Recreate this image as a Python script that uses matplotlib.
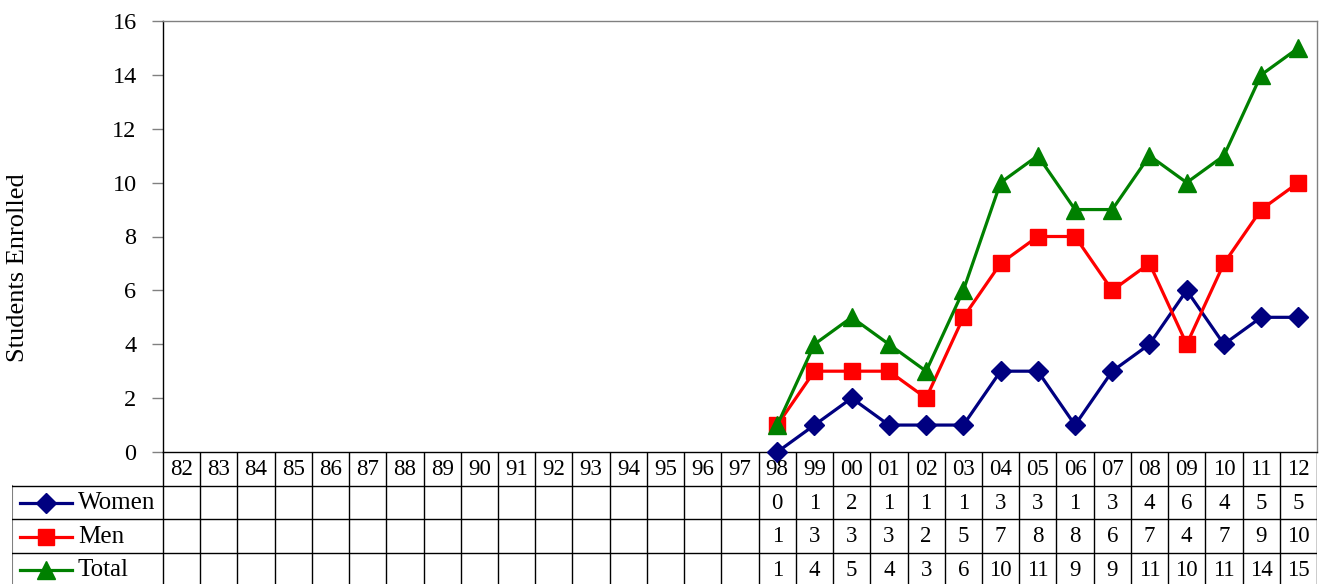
import matplotlib
matplotlib.use("Agg")
import matplotlib.pyplot as plt

plt.rcParams['font.family'] = ['Liberation Serif', 'DejaVu Serif']

years = ["82", "83", "84", "85", "86", "87", "88", "89", "90", "91", "92", "93", "94", "95", "96", "97",
         "98", "99", "00", "01", "02", "03", "04", "05", "06", "07", "08", "09", "10", "11", "12"]
data_start = "98"
women = [0, 1, 2, 1, 1, 1, 3, 3, 1, 3, 4, 6, 4, 5, 5]
men = [1, 3, 3, 3, 2, 5, 7, 8, 8, 6, 7, 4, 7, 9, 10]
total = [1, 4, 5, 4, 3, 6, 10, 11, 9, 9, 11, 10, 11, 14, 15]
series_names = ["Women", "Men", "Total"]
y_ticks = [0, 2, 4, 6, 8, 10, 12, 14, 16]

W, H = 1325, 584
fig = plt.figure(figsize=(W / 100, H / 100), dpi=100)
L, R, T, B = 163, 1317, 21, 452
ax = fig.add_axes([L / W, 1 - B / H, (R - L) / W, (B - T) / H])

n = len(years)
i0 = years.index(data_start)
xs = list(range(i0, i0 + len(women)))

styles = [
    dict(color="#000080", marker="D", markersize=10),
    dict(color="#FF0000", marker="s", markersize=11),
    dict(color="#008000", marker="^", markersize=12.5),
]
values = [women, men, total]
for vals, st in zip(values, styles):
    ax.plot(xs, vals, lw=2.3, clip_on=False, zorder=3, **st)

ax.set_xlim(-0.5, n - 0.5)
ax.set_ylim(0, 16)
ax.set_yticks(y_ticks)
ax.set_xticks([])
ax.tick_params(axis="y", length=8, width=1, color="#808080", labelsize=17.5, pad=11)
for s in ["top", "right"]:
    ax.spines[s].set_color("#808080")
    ax.spines[s].set_linewidth(1)
for s in ["left", "bottom"]:
    ax.spines[s].set_color("black")
    ax.spines[s].set_linewidth(1)

fig.text(18 / W, 1 - 268 / H, "Students Enrolled", rotation=90,
         ha="center", va="center", fontsize=19)

# data table
TL = 12
colw = (R - L) / n
xmin = -0.5 - (L - TL) / colw
tax = fig.add_axes([TL / W, 0, (R - TL) / W, (H - B) / H])
tax.set_xlim(xmin, n - 0.5)
rowh = 33.5
tax.set_ylim(H - B, 0)
tax.axis("off")

lc = "black"
for k in range(n + 1):
    tax.plot([k - 0.5, k - 0.5], [0, 4 * rowh], color=lc, lw=1, clip_on=True)
tax.plot([xmin, xmin], [rowh, 4 * rowh], color="#808080", lw=1.5)
for r in range(1, 4):
    tax.plot([xmin, n - 0.5], [r * rowh, r * rowh], color=lc, lw=1)

fs_num = 16.5
fs_name = 18
for k, yl in enumerate(years):
    tax.text(k, rowh / 2 + 1, yl, ha="center", va="center", fontsize=fs_num)

def px2x(px):
    return xmin + (px - TL) / colw

for r, (name, vals, st) in enumerate(zip(series_names, values, styles)):
    yc = (r + 1.5) * rowh + 1
    tax.plot([px2x(20), px2x(72)], [yc, yc], color=st["color"], lw=2.3)
    tax.plot([px2x(46)], [yc], linestyle="none", **st)
    tax.text(px2x(78), yc, name, ha="left", va="center", fontsize=fs_name)
    for xi, v in zip(xs, vals):
        tax.text(xi, yc, str(v), ha="center", va="center", fontsize=fs_num)

fig.savefig("out.png", dpi=100)
